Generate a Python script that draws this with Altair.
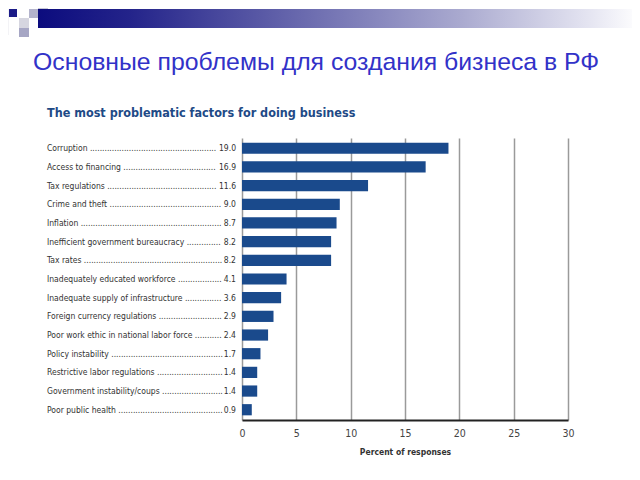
import altair as alt
import pandas as pd

factors = [
    "Corruption", "Access to financing", "Tax regulations", "Crime and theft",
    "Inflation", "Inefficient government bureaucracy", "Tax rates",
    "Inadequately educated workforce", "Inadequate supply of infrastructure",
    "Foreign currency regulations", "Poor work ethic in national labor force",
    "Policy instability", "Restrictive labor regulations",
    "Government instability/coups", "Poor public health",
]
values = [19.0, 16.9, 11.6, 9.0, 8.7, 8.2, 8.2, 4.1, 3.6, 2.9, 2.4, 1.7, 1.4, 1.4, 0.9]
x_ticks = [0, 5, 10, 15, 20, 25, 30]
slide_title = "Основные проблемы для создания бизнеса в РФ"
chart_title = "The most problematic factors for doing business"
x_title = "Percent of responses"

df = pd.DataFrame({"factor": factors, "value": values})
df["leader"] = df["factor"] + " " + "." * 160
df["label"] = df["value"].map(lambda v: f"{v:.1f}")

NARROW = "Liberation Sans Narrow, DejaVu Sans Condensed, Arial Narrow, sans-serif"
one = alt.Data(values=[{"k": 1}])

y_scale = alt.Scale(paddingInner=0.4, paddingOuter=0.25)

bars = alt.Chart(df).mark_bar(color="#1a4a8c").encode(
    x=alt.X("value:Q", scale=alt.Scale(domain=[0, 30], nice=False),
            axis=alt.Axis(values=x_ticks, title=x_title, grid=True, gridColor="#9a9a9a",
                          gridWidth=1.5, ticks=False, domainColor="#222", domainWidth=2,
                          labelFlush=False,
                          labelFont=NARROW, labelFontSize=10.5, labelColor="#444",
                          labelPadding=8, titleFont=NARROW, titleFontSize=8.5,
                          titleFontWeight="bold", titleColor="#333", titlePadding=9)),
    y=alt.Y("factor:N", sort=factors, scale=y_scale,
            axis=alt.Axis(labels=False, ticks=False, title=None, grid=False,
                          domainColor="#222", domainWidth=1.5)),
)

y_plain = alt.Y("factor:N", sort=factors, axis=None)

leaders_long = alt.Chart(df).transform_filter("datum.value >= 10").mark_text(
    align="left", baseline="middle", font=NARROW, fontSize=8.5, color="#333",
    limit=171, ellipsis="."
).encode(x=alt.value(-195), y=y_plain, text="leader:N")

leaders_short = alt.Chart(df).transform_filter("datum.value < 10").mark_text(
    align="left", baseline="middle", font=NARROW, fontSize=8.5, color="#333",
    limit=176, ellipsis="."
).encode(x=alt.value(-195), y=y_plain, text="leader:N")

vals = alt.Chart(df).mark_text(
    align="right", baseline="middle", font=NARROW, fontSize=8.5, color="#333"
).encode(x=alt.value(-6), y=y_plain, text="label:N")

def rect(x1, y1, x2, y2, color):
    return alt.Chart(one).mark_rect(color=color).encode(
        x=alt.value(x1 - 242), x2=alt.value(x2 - 242),
        y=alt.value(y1 - 138), y2=alt.value(y2 - 138))

grad = alt.Gradient(gradient="linear", x1=0, x2=1, y1=0, y2=0, stops=[
    alt.GradientStop(color="#0c0c7e", offset=0),
    alt.GradientStop(color="#23238a", offset=0.15),
    alt.GradientStop(color="#6060a9", offset=0.4),
    alt.GradientStop(color="#a9a9cf", offset=0.7),
    alt.GradientStop(color="#e6e6f2", offset=0.92),
    alt.GradientStop(color="#ffffff", offset=1),
])
band = alt.Chart(one).mark_rect(color=grad).encode(
    x=alt.value(38 - 242), x2=alt.value(640 - 242),
    y=alt.value(9 - 138), y2=alt.value(28 - 138))

decor = [
    band,
    rect(8, 9, 8.5, 35, "#e8e8ee"),
    rect(9, 9, 17, 17, "#1c1c88"),
    rect(29, 9, 38, 18, "#b4b4cc"),
    rect(38, 8, 48, 9, "#c8c8d8"),
    rect(19, 18, 29, 28, "#d6d6e0"),
    rect(19, 28, 29, 37, "#a6a6c4"),
]

t1 = alt.Chart(one).mark_text(
    text=slide_title, align="left", baseline="alphabetic", font="Liberation Sans, Arial, sans-serif",
    fontSize=24.8, color="#3232c8"
).encode(x=alt.value(33 - 242), y=alt.value(70 - 138))

t2 = alt.Chart(one).mark_text(
    text=chart_title, align="left", baseline="alphabetic", font=NARROW,
    fontSize=12.5, fontWeight="bold", color="#1e4a86"
).encode(x=alt.value(47 - 242), y=alt.value(117 - 138))

chart = alt.layer(*decor, t1, t2, bars, leaders_long, leaders_short, vals).properties(
    width=326, height=282,
    autosize=alt.AutoSizeParams(type="none"),
    padding={"left": 234, "top": 130, "right": 64, "bottom": 50},
    background="white",
).configure_view(stroke=None)

chart.save("out.html", embed_options={"renderer": "svg", "actions": False})
